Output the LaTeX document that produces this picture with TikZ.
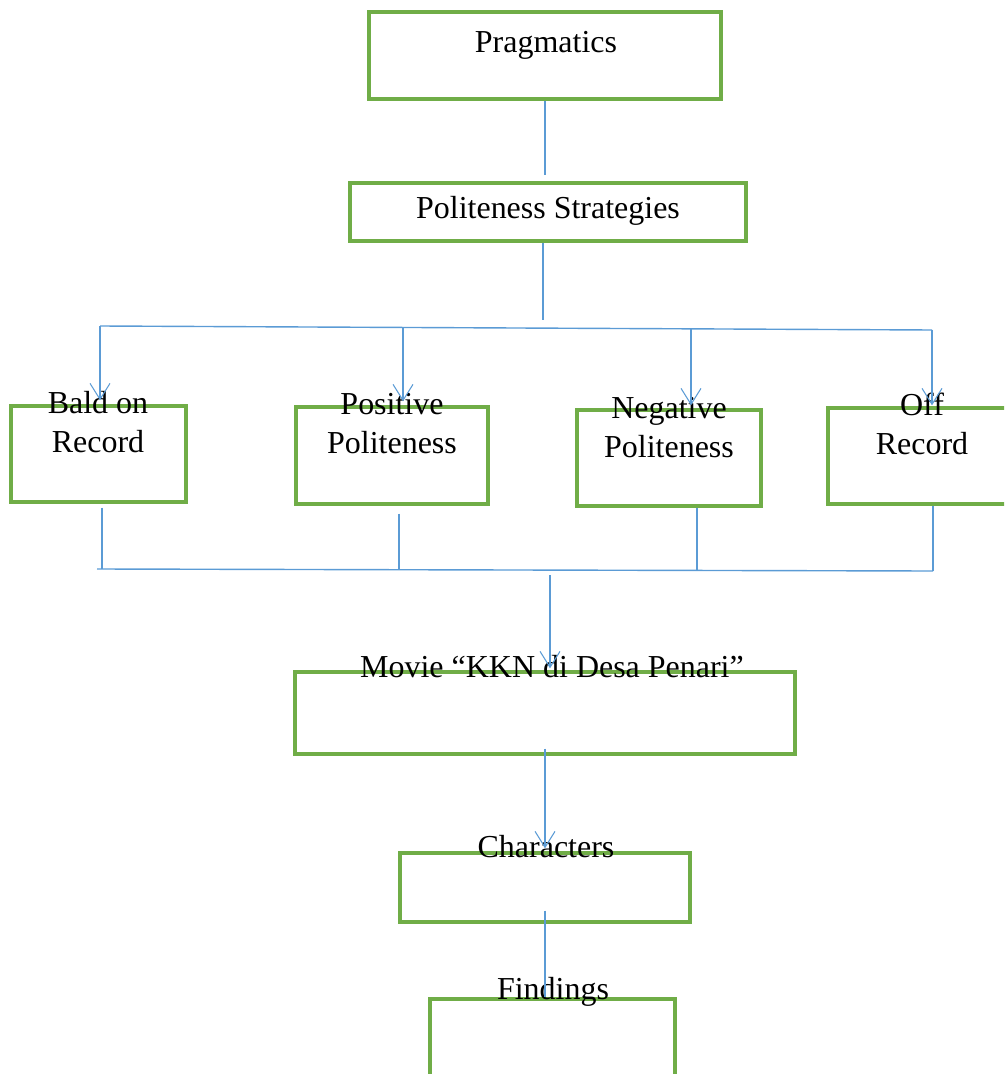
\documentclass[tikz,border=0pt]{standalone}
\usepackage{fontspec}
\setmainfont{Liberation Serif}
\usepackage{xcolor}
\usepackage{tikz}
\usetikzlibrary{arrows.meta,positioning,calc}
\definecolor{boxgreen}{HTML}{70AD47}
\definecolor{linkblue}{HTML}{5B9BD5}
\tikzset{
  greenbox/.style={draw=boxgreen,line width=1.9pt,rectangle,inner sep=0pt},
  boxtext/.style={font=\fontsize{18.2pt}{21.9pt}\selectfont,align=center,inner sep=0pt,anchor=base},
  linkline/.style={draw=linkblue,line width=0.8pt},
  downarrow/.style={linkline,-{Straight Barb[length=0.32cm,width=0.4cm,line width=0.6pt]}}
}

\begin{document}
\begin{tikzpicture}[x=0.02cm,y=-0.02cm]
  \clip (0,0) rectangle (1004,1074);
  % boxes
  \node[greenbox,minimum width=7.04cm,minimum height=1.74cm] (prag) at (545,55.5) {};
  \node[greenbox,minimum width=7.92cm,minimum height=1.16cm] (strat) at (548,212) {};
  \node[greenbox,minimum width=3.5cm,minimum height=1.92cm] (bald) at (98.5,454) {};
  \node[greenbox,minimum width=3.84cm,minimum height=1.94cm] (pos) at (392,455.5) {};
  \node[greenbox,minimum width=3.68cm,minimum height=1.92cm] (neg) at (669,458) {};
  \node[greenbox,minimum width=3.76cm,minimum height=1.92cm] (off) at (922,456) {};
  \node[greenbox,minimum width=10cm,minimum height=1.64cm] (movie) at (545,713) {};
  \node[greenbox,minimum width=5.8cm,minimum height=1.38cm] (chars) at (545,887.5) {};
  \node[greenbox,minimum width=4.9cm,minimum height=1.8cm] (find) at (552.5,1044) {};
  % texts
  \node[boxtext] (pragtxt) at (546,53) {Pragmatics};
  \node[boxtext] (strattxt) at (548,219) {Politeness Strategies};
  \node[boxtext] (baldtxt) at (98,452) {Bald on\\Record};
  \node[boxtext] (postxt) at (392,453) {Positive\\Politeness};
  \node[boxtext] (negtxt) at (669,457) {Negative\\Politeness};
  \node[boxtext] (offtxt) at (922,454) {Off\\Record};
  \node[boxtext] (movietxt) at (552,677) {Movie “KKN di Desa Penari”};
  \node[boxtext] (charstxt) at (546,857) {Characters};
  \node[boxtext] (findtxt) at (553,999) {Findings};
  % bus points
  \coordinate (stratfoot) at (543,320);
  \coordinate (busL) at (100,326);
  \coordinate (busR) at (932,330);
  \coordinate (tapP) at (403,327.3);
  \coordinate (tapN) at (691,328.5);
  \coordinate (lowL) at (97,569);
  \coordinate (lowR) at (933,571);
  \coordinate (dropB) at (102,569);
  \coordinate (dropP) at (399,569.5);
  \coordinate (dropN) at (697,570);
  \coordinate (lowmid) at (550,570);
  % connectors
  \draw[linkline,shorten >=0.12cm] (prag.south) -- (prag.south |- strat.north);
  \draw[linkline] (stratfoot |- strat.south) -- (stratfoot);
  \draw[linkline] (busL) -- (busR);
  \draw[downarrow,shorten >=0.08cm] (busL) -- (busL |- bald.north);
  \draw[downarrow,shorten >=0.08cm] (tapP) -- (tapP |- pos.north);
  \draw[downarrow,shorten >=0.06cm] (tapN) -- (tapN |- neg.north);
  \draw[downarrow,shorten >=0.02cm] (busR) -- (busR |- off.north);
  \draw[linkline,shorten <=0.08cm] (dropB |- bald.south) -- (dropB);
  \draw[linkline,shorten <=0.16cm] (dropP |- pos.south) -- (dropP);
  \draw[linkline] (dropN |- neg.south) -- (dropN);
  \draw[linkline] (lowR |- off.south) -- (lowR);
  \draw[linkline] (lowL) -- (lowR);
  \draw[downarrow,shorten <=0.1cm,shorten >=0.04cm] (lowmid) -- (lowmid |- movie.north);
  \draw[downarrow,shorten >=0.06cm] ([yshift=0.14cm]movie.south) -- (chars.north);
  \draw[linkline] ([yshift=0.26cm]chars.south) -- (chars.south |- find.north);
\end{tikzpicture}
\end{document}
